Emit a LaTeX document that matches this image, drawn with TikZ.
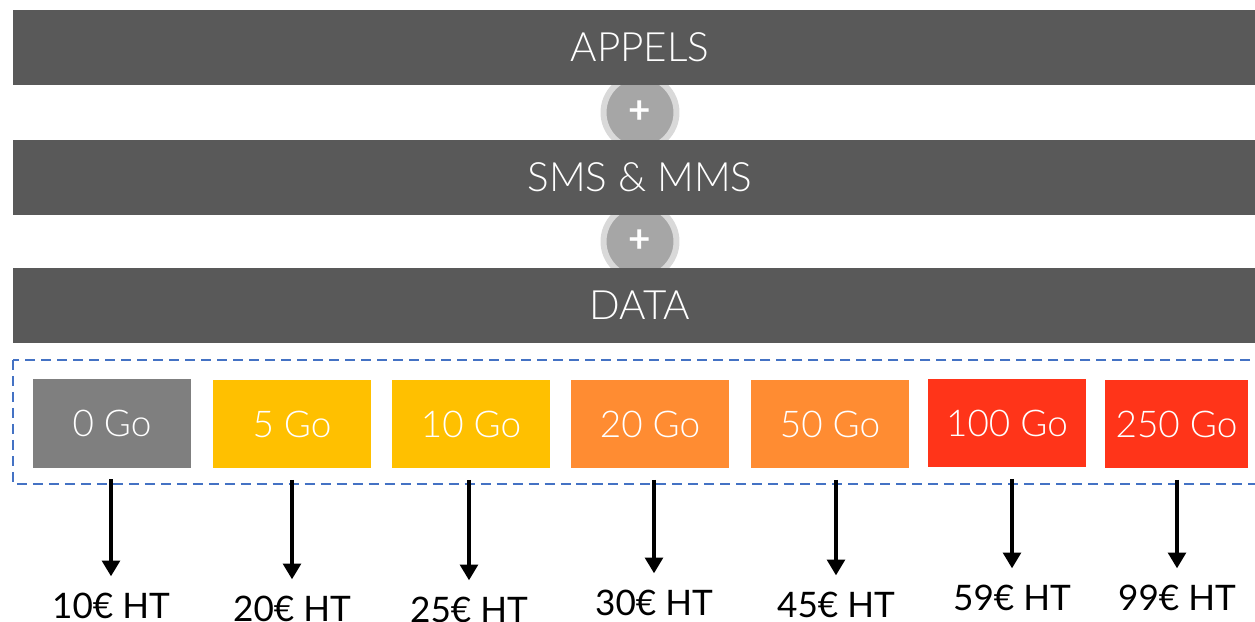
\documentclass[tikz,border=0pt]{standalone}
\usepackage{fontspec}
\setmainfont{Lato}[UprightFont=* Light]
\newfontfamily\pricefont{Lato}
\usetikzlibrary{arrows.meta}
\definecolor{bargray}{HTML}{595959}
\definecolor{plusgray}{HTML}{A6A6A6}
\definecolor{ringgray}{HTML}{D9D9D9}
\definecolor{gogray}{HTML}{7F7F7F}
\definecolor{goyellow}{HTML}{FFC000}
\definecolor{goorange}{HTML}{FF8C32}
\definecolor{gored}{HTML}{FF3419}
\definecolor{dashblue}{HTML}{4472C4}
\tikzset{ b/.style = { rectangle % band
        , fill = bargray
        , text = white
        , inner sep = 0pt
        , minimum width = 25.08cm
        , minimum height = 1.5cm
        , font = \fontsize{23}{27}\selectfont
        }
        , g/.style = { rectangle % data volume
        , text = white
        , inner sep = 0pt
        , minimum width = 3.16cm
        , minimum height = 1.78cm
        , font = \fontsize{21}{25}\selectfont
        }
        , p/.style = { rectangle % price
        , anchor = base
        , inner sep = 0pt
        , font = \pricefont\fontsize{20}{24}\selectfont
        }
        }

\begin{document}
\begin{tikzpicture}[x=0.02cm, y=-0.02cm,
        plus_style/.style={circle,fill=plusgray,draw=ringgray,line width=3.4pt,minimum size=1.46cm,inner sep=0pt,text=white,font=\pricefont\bfseries\fontsize{22}{26}\selectfont},
        frame_style/.style={draw=dashblue,line width=1.5pt,dash pattern=on 5.7pt off 3.4pt},
        edge_style/.style={draw=black,line width=2.2pt,-{Triangle[width=10pt,length=9pt]},shorten <=6.3pt,shorten >=9pt}]
        \useasboundingbox (0,0) rectangle (1255,622);

        \node [plus_style](plus1) at (640,112.5) {+};
        \node [plus_style](plus2) at (640,241.5) {+};

        \node [b](appels) at (640,47.5) {APPELS};
        \node [b](sms) at (640,177.5) {SMS \& MMS};
        \node [b](data) at (640,305.5) {DATA};

        \draw [frame_style] (13,360) rectangle (1275,484);

        \node [g,fill=gogray](g0) at (112,423.5) {0 Go};
        \node [g,fill=goyellow](g5) at (292,424) {5 Go};
        \node [g,fill=goyellow](g10) at (471,424) {10 Go};
        \node [g,fill=goorange](g20) at (650,424) {20 Go};
        \node [g,fill=goorange](g50) at (830,424) {50 Go};
        \node [g,fill=gored](g100) at (1007,423) {100 Go};
        \node [g,fill=gored,minimum width=2.86cm](g250) at (1176.5,424) {250 Go};

        \node [p](p10) at (111,618) {10€ HT};
        \node [p](p20) at (292,621) {20€ HT};
        \node [p](p25) at (469,622) {25€ HT};
        \node [p](p30) at (654,615) {30€ HT};
        \node [p](p45) at (836,617) {45€ HT};
        \node [p](p59) at (1012,610) {59€ HT};
        \node [p](p99) at (1177,610) {99€ HT};

        \draw [edge_style] (g0.south -| p10) -- (p10.north);
        \draw [edge_style] (g5.south -| p20) -- (p20.north);
        \draw [edge_style] (g10.south -| p25) -- (p25.north);
        \draw [edge_style] (g20.south -| p30) -- (p30.north);
        \draw [edge_style] (g50.south -| p45) -- (p45.north);
        \draw [edge_style] (g100.south -| p59) -- (p59.north);
        \draw [edge_style] (g250.south -| p99) -- (p99.north);
\end{tikzpicture}
\end{document}
